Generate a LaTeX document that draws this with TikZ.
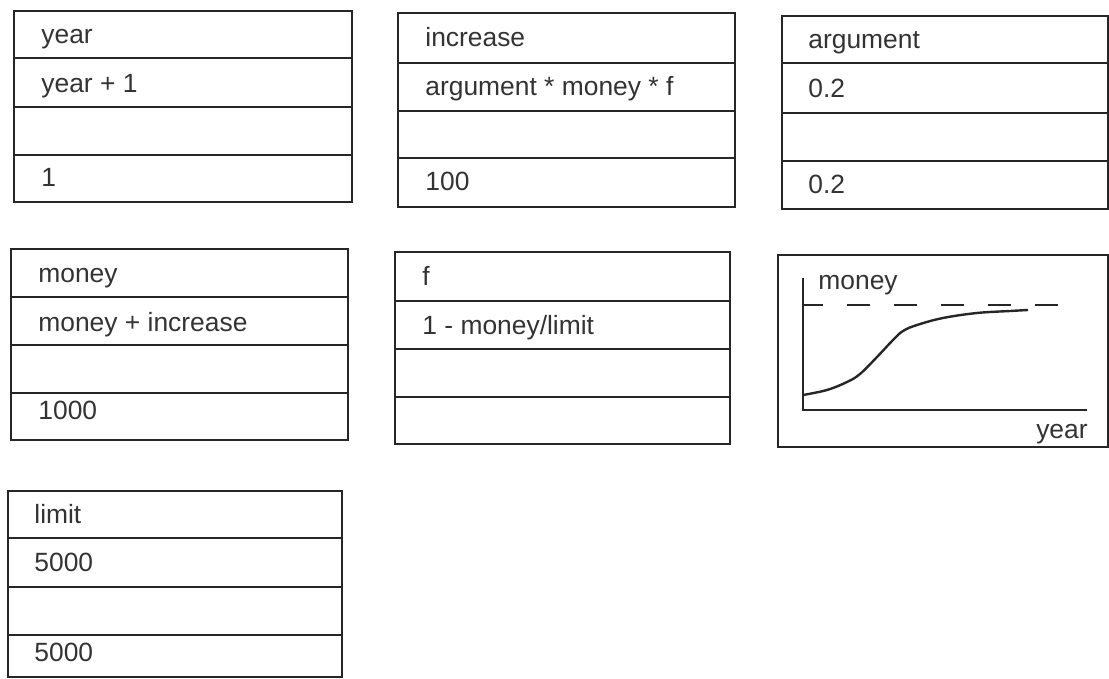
\documentclass[tikz,border=0pt]{standalone}
\usepackage{fontspec}
\setmainfont{Liberation Sans}
\begin{document}
\begin{tikzpicture}[x=0.5pt,y=-0.5pt,
  frame/.style={draw=black!85,line width=1.1pt},
  cell/.style={anchor=mid west,inner sep=0pt,font=\fontsize{13.2}{15}\selectfont,text=black!80},
  axis/.style={draw=black!85,line width=1.2pt},
  lbl/.style={inner sep=0pt,font=\fontsize{13.2}{15}\selectfont,text=black!80}]
\useasboundingbox (0,0) rectangle (1109,679);
% year
\draw[frame] (14,11) rectangle (352,202);
\draw[frame] (14,58) -- (352,58) (14,107) -- (352,107) (14,155) -- (352,155);
\node[cell] (yearA) at (41,38) {year};
\node[cell] (yearB) at (41,87) {year + 1};
\node[cell] (yearD) at (41,181) {1};
% increase
\draw[frame] (398,13) rectangle (735,207);
\draw[frame] (398,63) -- (735,63) (398,111) -- (735,111) (398,158) -- (735,158);
\node[cell] (incA) at (425,41) {increase};
\node[cell] (incB) at (425,90) {argument * money * f};
\node[cell] (incD) at (425,185) {100};
% argument
\draw[frame] (782,16) rectangle (1108,209);
\draw[frame] (782,63) -- (1108,63) (782,113) -- (1108,113) (782,161) -- (1108,161);
\node[cell] (argA) at (808,43) {argument};
\node[cell] (argB) at (808,92) {0.2};
\node[cell] (argD) at (808,188) {0.2};
% money
\draw[frame] (11,249) rectangle (348,440);
\draw[frame] (11,297) -- (348,297) (11,345) -- (348,345) (11,393) -- (348,393);
\node[cell] (monA) at (38,277) {money};
\node[cell] (monB) at (38,326) {money + increase};
\node[cell] (monD) at (38,414) {1000};
% f
\draw[frame] (395,252) rectangle (730,444);
\draw[frame] (395,301) -- (730,301) (395,349) -- (730,349) (395,397) -- (730,397);
\node[cell] (fA) at (422,280) {f};
\node[cell] (fB) at (422,329) {1 - money/limit};
% graph
\draw[frame] (778,255) rectangle (1108,447);
\coordinate (ytop) at (803,278);
\coordinate (orig) at (803,410);
\coordinate (xend) at (1087,410);
\draw[axis] (ytop) -- (orig) -- (xend);
\node[lbl,anchor=base west] (gmoney) at (818,290) {money};
\node[lbl,anchor=base east] (gyear) at (1088,438) {year};
\coordinate (dashA) at (803,305);
\coordinate (dashB) at (1063,305);
\draw[axis,dash pattern=on 11.5pt off 12pt,dash phase=1.5pt] (dashA) -- (dashB);
\draw[axis] plot[smooth,tension=0.6] coordinates {(803,395) (827,390) (847,382) (860,374) (877,357) (893,340) (903,331) (917,325) (943,318) (977,313) (1010,311) (1028,310)};
% limit
\draw[frame] (8,491) rectangle (342,677);
\draw[frame] (8,538) -- (342,538) (8,587) -- (342,587) (8,635) -- (342,635);
\node[cell] (limA) at (34,518) {limit};
\node[cell] (limB) at (34,566) {5000};
\node[cell] (limD) at (34,656) {5000};
\end{tikzpicture}
\end{document}
